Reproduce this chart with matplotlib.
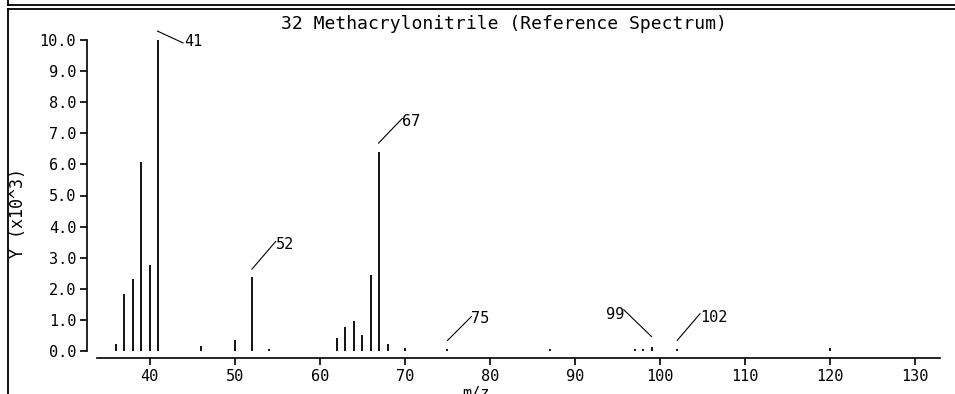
import matplotlib
matplotlib.use('Agg')
import matplotlib.pyplot as plt
from matplotlib.lines import Line2D
from matplotlib.transforms import offset_copy

# peak list (intensity in units of 10^3)
mz = [36, 37, 38, 39, 40, 41, 46, 50, 52, 54, 62, 63, 64, 65, 66, 67, 68,
      70, 75, 87, 97, 98, 99, 102, 120]
intensity = [0.22, 1.82, 2.31, 6.07, 2.75, 10.0, 0.16, 0.34, 2.37, 0.05,
             0.41, 0.76, 0.96, 0.51, 2.44, 6.39, 0.21, 0.10, 0.08, 0.05,
             0.05, 0.05, 0.14, 0.08, 0.10]

# labelled peaks
label_mz = [41, 52, 67, 75, 99, 102]
x_ticks = [40, 50, 60, 70, 80, 90, 100, 110, 120, 130]
y_ticks = [0, 1, 2, 3, 4, 5, 6, 7, 8, 9, 10]
title = '32 Methacrylonitrile (Reference Spectrum)'

W, H = 955, 394
fig = plt.figure(figsize=(W / 100, H / 100), dpi=100)
mono = 'DejaVu Sans Mono'

ax = fig.add_axes([97 / W, 1 - 351 / H, 843 / W, 311 / H])
ax.vlines(mz, 0, intensity, color='black', lw=1.3)
ax.set_xlim(33.8, 132.9)
ax.set_ylim(0, 10)

for s in ['top', 'right']:
    ax.spines[s].set_visible(False)
ax.spines['bottom'].set_position(('outward', 5))
ax.spines['left'].set_position(('outward', 7))
ax.spines['bottom'].set_linewidth(1.2)
ax.spines['left'].set_linewidth(1.2)
ax.set_xticks(x_ticks)
ax.set_yticks(y_ticks)
ax.set_yticklabels(['%.1f' % v for v in y_ticks])
ax.tick_params(length=5, width=1.2, labelsize=11, pad=3)
for lab in ax.get_xticklabels() + ax.get_yticklabels():
    lab.set_family(mono)

# peak labels: (line start dx,dy), (line end dx,dy), (text dx,dy), alignment -- pixels
label_geo = {
    41: ((-1, 9), (25, -3), (26, -1), 'left'),
    52: ((0, 8), (24, 36), (24, 33), 'left'),
    67: ((-1, 9), (23, 34), (23, 31), 'left'),
    75: ((0, 8), (24, 32), (24, 30), 'left'),
    99: ((0, 10), (-28, 37), (-27, 32), 'right'),
    102: ((0, 8), (23, 35), (23, 31), 'left'),
}
for m in label_mz:
    h = intensity[mz.index(m)]
    (x0, y0), (x1, y1), (tx, ty), ha = label_geo[m]
    t0 = offset_copy(ax.transData, fig=fig, x=x0, y=y0, units='dots')
    t1 = offset_copy(ax.transData, fig=fig, x=x1, y=y1, units='dots')
    ax.annotate('', xy=(m, h), xycoords=t0, xytext=(m, h), textcoords=t1,
                arrowprops=dict(arrowstyle='-', lw=0.8, color='black',
                                shrinkA=0, shrinkB=0),
                annotation_clip=False)
    ax.annotate(str(m), xy=(m, h), xytext=(tx, ty), textcoords='offset pixels',
                ha=ha, va='center', fontsize=11, family=mono,
                annotation_clip=False)

fig.text(504 / W, 1 - 24 / H, title, ha='center', va='center',
         fontsize=13, family=mono)
fig.text(18 / W, 1 - 213 / H, 'Y (x10^3)', rotation=90, ha='center',
         va='center', fontsize=12, family=mono)
# axis titles of this panel and the one above are cut by the image edges
fig.text(476 / W, 1 - 386 / H, 'm/z', ha='center', va='top',
         fontsize=11, family=mono)
fig.text(476 / W, 1 - 2 / H, 'm/z', ha='center', va='bottom',
         fontsize=11, family=mono)

# panel frame lines
for yy in [4.5, 9]:
    fig.add_artist(Line2D([8 / W, 1], [1 - yy / H] * 2, color='black', lw=1.3,
                          transform=fig.transFigure))
fig.add_artist(Line2D([8 / W] * 2, [1, 1 - 4.5 / H], color='black', lw=1.3,
                      transform=fig.transFigure))
fig.add_artist(Line2D([8 / W] * 2, [1 - 9 / H, 0], color='black', lw=1.3,
                      transform=fig.transFigure))

fig.savefig('out.png', dpi=100)
